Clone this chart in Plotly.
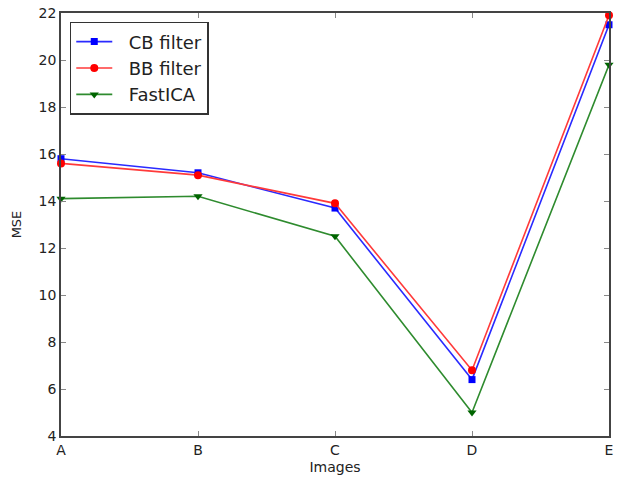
import plotly.graph_objects as go

images = ["A", "B", "C", "D", "E"]
cb_filter = [15.8, 15.2, 13.7, 6.4, 21.5]
bb_filter = [15.6, 15.1, 13.9, 6.8, 21.9]
fastica = [14.1, 14.2, 12.5, 5.0, 19.8]
y_ticks = [4, 6, 8, 10, 12, 14, 16, 18, 20, 22]
pad = "\u00a0\u00a0"

fig = go.Figure()
fig.add_trace(go.Scatter(x=images, y=cb_filter, name=pad + "CB filter", mode="lines+markers",
                         line=dict(color="#2a2aff", width=1.6), cliponaxis=False,
                         marker=dict(symbol="square", size=7, color="#0000ff")))
fig.add_trace(go.Scatter(x=images, y=bb_filter, name=pad + "BB filter", mode="lines+markers",
                         line=dict(color="#ff3a3a", width=1.6), cliponaxis=False,
                         marker=dict(symbol="circle", size=8, color="#ff0000")))
fig.add_trace(go.Scatter(x=images, y=fastica, name=pad + "FastICA", mode="lines+markers",
                         line=dict(color="#2e8b2e", width=1.6), cliponaxis=False,
                         marker=dict(symbol="triangle-down", size=8, color="#006400")))

axis_common = dict(showline=True, linecolor="#444", linewidth=1.5, mirror="ticks",
                   ticks="inside", ticklen=5, tickcolor="#888", showgrid=False,
                   zeroline=False, automargin=False,
                   tickfont=dict(family="DejaVu Sans", size=14, color="#222"))

fig.update_layout(
    width=617, height=482,
    margin=dict(l=61, r=8, t=13, b=46),
    paper_bgcolor="white", plot_bgcolor="white",
    font=dict(family="DejaVu Sans", size=13, color="#222"),
    showlegend=True,
    legend=dict(x=0.016, y=0.979, xanchor="left", yanchor="top",
                bordercolor="#333", borderwidth=1.5, bgcolor="white",
                font=dict(family="DejaVu Sans", size=18, color="#222"),
                itemwidth=36, tracegroupgap=0),
)
fig.update_xaxes(range=[0, 4], title=dict(text="Images", standoff=6,
                 font=dict(size=14)), **axis_common)
fig.update_yaxes(range=[4, 22], tickvals=y_ticks, title=dict(text="MSE", standoff=14,
                 font=dict(size=13)), **axis_common)

fig.write_html("out.html", config={"displayModeBar": False},
               post_script="document.body.style.margin='0';")
